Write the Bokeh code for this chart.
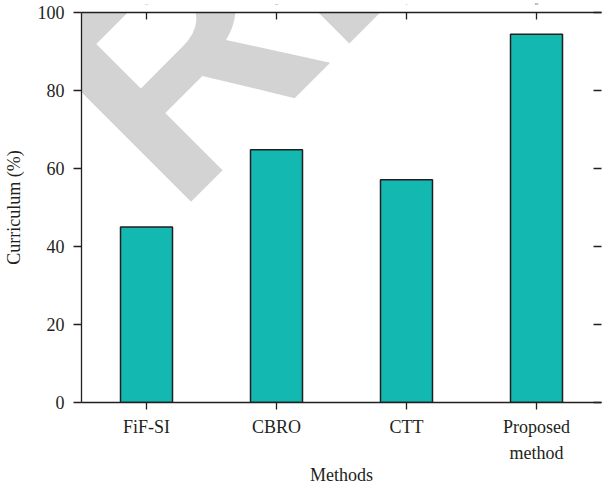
from bokeh.plotting import figure
from bokeh.models import Range1d, FactorRange, LinearAxis, CategoricalAxis, FixedTicker, Label
from bokeh.embed import file_html
from bokeh.resources import INLINE

# ---- data ----
methods = ["FiF-SI", "CBRO", "CTT", "Proposed\nmethod"]
curriculum = [45.0, 64.8, 57.1, 94.4]
y_ticks = [0, 20, 40, 60, 80, 100]
x_title = "Methods"
y_title = "Curriculum (%)"
watermark = "RETRACTED"

FONT = "Liberation Serif"
TXT = "#231f20"
BAR = "#13b8b1"
FS = "18px"

p = figure(x_range=FactorRange(*methods), y_range=Range1d(0, 100),
           width=604, height=487,
           min_border_left=73, min_border_right=0, min_border_top=8, min_border_bottom=80,
           output_backend="svg", toolbar_location=None)
p.outline_line_color = None
p.grid.grid_line_color = None
p.background_fill_color = "white"
p.border_fill_color = "white"

# watermark (behind everything)
wm = Label(x=0.145, y=67.2, text=watermark, angle=45, angle_units="deg",
           text_font="Liberation Sans", text_font_style="bold", text_font_size="310px",
           text_color="#d3d3d3", text_align="left", text_baseline="alphabetic",
           level="underlay")
p.add_layout(wm)

p.vbar(x=methods, top=curriculum, width=0.4, fill_color=BAR,
       line_color=TXT, line_width=1.5)

def style(ax):
    ax.axis_line_color = TXT
    ax.axis_line_width = 1.3
    ax.major_tick_line_color = TXT
    ax.major_tick_line_width = 1.3
    ax.minor_tick_line_color = None
    ax.major_label_text_font = FONT
    ax.major_label_text_font_size = FS
    ax.major_label_text_color = TXT
    ax.axis_label_text_font = FONT
    ax.axis_label_text_font_size = FS
    ax.axis_label_text_color = TXT
    ax.axis_label_text_font_style = "normal"

xa = p.xaxis[0]
style(xa)
xa.axis_label = x_title
xa.major_tick_in = 0
xa.major_tick_out = 7
xa.major_label_standoff = 7
xa.major_label_text_line_height = 1.3
xa.axis_label_standoff = -1

ya = p.yaxis[0]
style(ya)
ya.axis_label = y_title
ya.ticker = FixedTicker(ticks=y_ticks)
ya.major_tick_in = 0
ya.major_tick_out = 8
ya.major_label_standoff = 9
ya.axis_label_standoff = 11

top = CategoricalAxis()
style(top)
top.major_tick_in = 7
top.major_tick_out = 0
top.major_label_overrides = {m: " " for m in methods}
top.major_label_text_font_size = "1px"
top.major_label_standoff = 7
p.add_layout(top, "above")

right = LinearAxis(ticker=FixedTicker(ticks=y_ticks))
style(right)
right.axis_line_color = None
right.major_tick_in = 8
right.major_tick_out = 0
right.major_label_overrides = {t: " " for t in y_ticks}
right.major_label_text_font_size = "1px"
right.major_label_standoff = 0
p.add_layout(right, "right")

open("out.html", "w").write(file_html(p, INLINE))
